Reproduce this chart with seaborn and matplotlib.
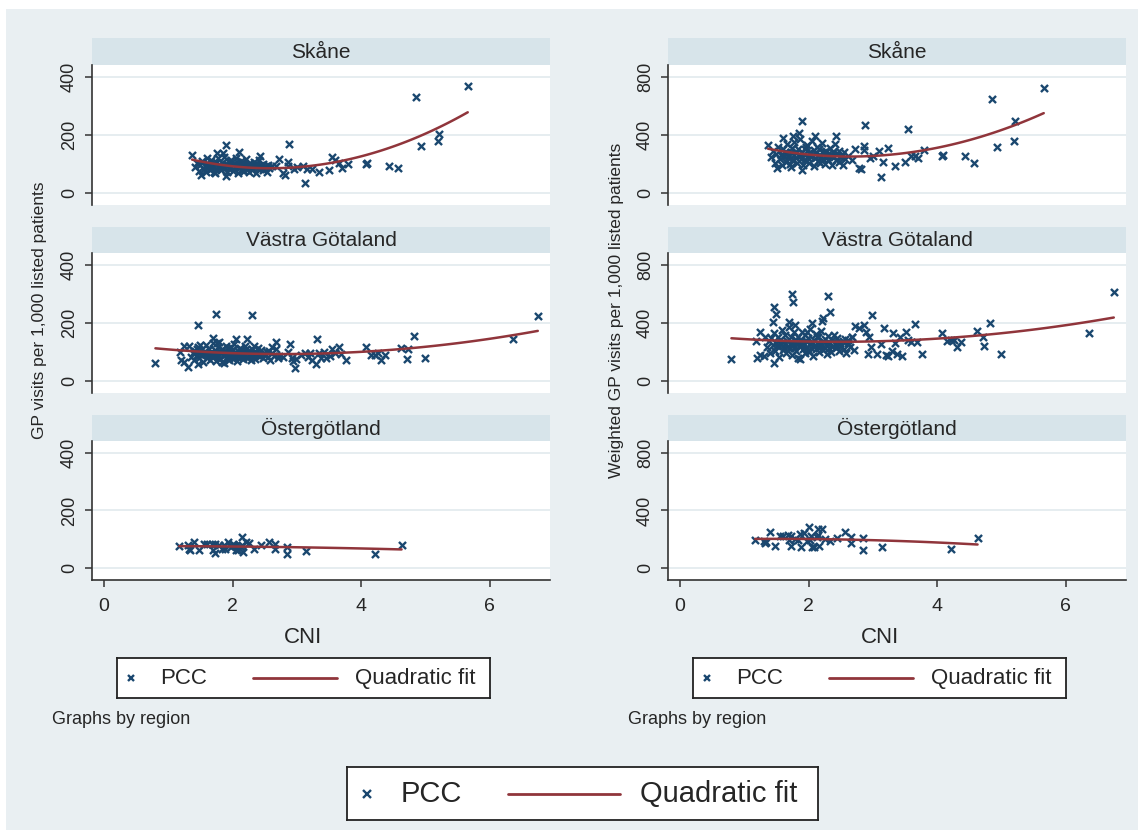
import matplotlib.pyplot as plt
import seaborn as sns
from matplotlib.patches import Rectangle

# ---- data ----
regions = ['Skåne', 'Västra Götaland', 'Östergötland']

# Skåne: CNI, GP visits, weighted GP visits
skane_cni = [5.66, 4.85, 5.21, 5.20, 4.93, 4.57, 4.43, 4.07, 4.10, 3.80,
             3.71, 3.66, 3.59, 3.55, 3.50, 3.35, 3.24, 3.16, 3.12, 3.09,
             3.01, 2.96, 2.87, 2.88, 2.86, 2.79, 2.81, 2.72, 2.67, 2.61,
             1.37, 1.90, 2.10, 1.76, 1.85, 1.51, 1.90, 2.42,
             1.42, 1.45, 1.48, 1.50, 1.52, 1.55, 1.57, 1.58, 1.60, 1.62,
             1.63, 1.65, 1.66, 1.68, 1.70, 1.71, 1.72, 1.74, 1.75, 1.77,
             1.78, 1.80, 1.81, 1.82, 1.84, 1.86, 1.87, 1.88, 1.90, 1.91,
             1.93, 1.94, 1.95, 1.97, 1.98, 2.00, 2.01, 2.02, 2.04, 2.05,
             2.06, 2.08, 2.09, 2.10, 2.12, 2.13, 2.14, 2.16, 2.17, 2.18,
             2.20, 2.21, 2.22, 2.24, 2.25, 2.27, 2.28, 2.30, 2.31, 2.33,
             2.35, 2.36, 2.38, 2.40, 2.41, 2.43, 2.45, 2.47, 2.48, 2.50,
             2.52, 2.53, 2.55, 2.57, 1.60, 1.73, 1.96, 2.15, 2.26, 2.37]
skane_gp = [370, 332, 203, 179, 162, 87, 94, 101, 103, 100,
            85, 102, 114, 124, 79, 71, 83, 82, 34, 93,
            88, 82, 108, 168, 93, 69, 62, 118, 93, 93,
            131, 165, 142, 137, 137, 62, 59, 129,
            88, 102, 75, 96, 110, 84, 93, 71, 105, 90,
            98, 80, 115, 87, 94, 72, 101, 108, 83, 92,
            119, 86, 97, 78, 104, 91, 125, 85, 99, 74,
            95, 107, 82, 89, 113, 96, 77, 100, 88, 121,
            93, 69, 103, 86, 97, 111, 80, 94, 106, 76,
            90, 117, 84, 98, 73, 102, 89, 95, 81, 108,
            92, 70, 99, 87, 114, 83, 96, 78, 101, 89,
            94, 72, 97, 85, 122, 68, 109, 79, 100, 91]
skane_wgp = [722, 646, 497, 359, 315, 209, 253, 257, 262, 297,
             239, 253, 255, 439, 216, 184, 310, 212, 108, 288,
             255, 240, 324, 469, 297, 175, 165, 300, 230, 255,
             331, 499, 393, 391, 412, 172, 159, 391,
             250, 290, 205, 270, 320, 235, 260, 190, 300, 255,
             280, 215, 340, 245, 265, 200, 285, 310, 230, 260,
             350, 240, 275, 210, 300, 255, 370, 235, 280, 195,
             270, 305, 225, 250, 330, 275, 210, 285, 245, 360,
             260, 185, 295, 240, 275, 320, 220, 265, 305, 205,
             255, 345, 235, 280, 200, 290, 250, 270, 225, 310,
             260, 190, 285, 245, 335, 230, 275, 215, 290, 250,
             265, 195, 280, 235, 380, 180, 315, 220, 285, 255]

# Västra Götaland
vg_cni = [0.80, 6.75, 6.37, 5.00, 4.83, 4.62, 4.71, 4.73, 4.37, 4.31,
          4.27, 4.21, 4.15, 4.08, 3.76, 3.68, 3.66, 3.60, 3.55, 3.52,
          3.45, 3.38, 3.32, 3.30, 3.34, 3.42, 3.21, 3.17, 3.12, 3.23,
          3.07, 2.97, 2.94, 2.99, 2.89, 2.92, 2.78, 2.73, 2.87, 2.67,
          2.62, 2.31, 2.33, 1.74, 1.76, 1.47, 1.49, 2.22, 2.21, 2.05,
          1.70, 1.44, 1.24, 1.32, 1.19, 1.30, 1.24, 1.20, 1.47,
          1.36, 1.38, 1.40, 1.42, 1.44, 1.46, 1.48, 1.50, 1.51, 1.53,
          1.54, 1.56, 1.57, 1.58, 1.60, 1.61, 1.62, 1.64, 1.65, 1.66,
          1.68, 1.69, 1.70, 1.72, 1.73, 1.74, 1.76, 1.77, 1.78, 1.80,
          1.81, 1.82, 1.83, 1.85, 1.86, 1.87, 1.88, 1.90, 1.91, 1.92,
          1.94, 1.95, 1.96, 1.98, 1.99, 2.00, 2.02, 2.03, 2.04, 2.06,
          2.07, 2.08, 2.10, 2.11, 2.12, 2.14, 2.15, 2.16, 2.18, 2.19,
          2.20, 2.22, 2.23, 2.25, 2.26, 2.28, 2.29, 2.31, 2.32, 2.34,
          2.35, 2.37, 2.38, 2.40, 2.42, 2.43, 2.45, 2.47, 2.49, 2.51,
          2.53, 2.55, 2.57, 2.59, 2.62, 2.65, 2.68, 2.71, 1.63, 1.71,
          1.79, 1.84, 1.89, 1.93, 1.97, 2.01, 2.05, 2.09, 2.13, 2.17]
vg_gp = [63, 225, 144, 80, 155, 115, 76, 110, 90, 72,
         96, 90, 88, 117, 72, 93, 117, 95, 109, 86,
         79, 80, 145, 57, 96, 100, 96, 82, 96, 72,
         89, 46, 68, 75, 126, 80, 83, 86, 100, 136,
         117, 228, 120, 230, 130, 193, 125, 145, 110, 145,
         149, 110, 122, 122, 100, 49, 67, 72, 60,
         84, 98, 72, 105, 90, 117, 78, 95, 88, 110,
         66, 101, 93, 125, 80, 97, 86, 112, 74, 99,
         89, 131, 83, 94, 107, 70, 92, 118, 85, 100,
         77, 96, 109, 88, 62, 103, 91, 120, 81, 95,
         114, 73, 99, 87, 106, 79, 93, 128, 84, 97,
         68, 102, 90, 115, 82, 96, 108, 75, 93, 88,
         121, 80, 99, 86, 104, 71, 94, 111, 83, 97,
         76, 101, 89, 113, 85, 92, 106, 78, 95, 88,
         99, 82, 104, 74, 96, 87, 109, 80, 93, 85,
         136, 64, 100, 91, 118, 76, 97, 87, 107, 83]
vg_wgp = [154, 616, 329, 184, 398, 343, 306, 244, 267, 233,
          285, 285, 276, 329, 186, 267, 391, 267, 284, 336,
          172, 184, 331, 205, 260, 301, 179, 368, 253, 170,
          187, 236, 305, 453, 336, 187, 368, 382, 384, 300,
          280, 586, 474, 602, 543, 513, 462, 432, 414, 402,
          407, 405, 338, 300, 278, 170, 179, 161, 126,
          235, 275, 190, 295, 245, 330, 205, 260, 240, 305,
          165, 280, 255, 350, 215, 270, 230, 315, 195, 275,
          240, 370, 225, 260, 300, 180, 250, 335, 230, 280,
          205, 265, 305, 240, 155, 285, 250, 340, 220, 260,
          320, 190, 275, 235, 295, 210, 255, 360, 225, 270,
          175, 285, 245, 325, 220, 265, 300, 200, 255, 240,
          345, 215, 275, 230, 290, 185, 260, 310, 225, 265,
          200, 280, 240, 320, 230, 250, 295, 205, 260, 240,
          275, 220, 290, 195, 265, 235, 305, 215, 255, 230,
          385, 160, 275, 250, 335, 200, 270, 235, 300, 225]

# Östergötland
og_cni = [1.17, 1.30, 1.32, 1.34, 1.40, 1.48, 1.55, 1.61, 1.68, 1.73,
          1.69, 1.73, 1.79, 1.84, 1.87, 1.89, 1.93, 1.97, 2.00, 2.02,
          2.04, 2.06, 2.09, 2.17, 2.15, 2.21, 2.14, 2.13, 2.25, 2.34,
          2.44, 2.56, 2.66, 2.66, 2.85, 2.84, 3.15, 4.22, 4.63]
og_gp = [75, 81, 67, 64, 89, 64, 83, 83, 83, 83,
         64, 52, 79, 67, 80, 67, 89, 72, 83, 79,
         75, 64, 64, 55, 107, 92, 80, 72, 87, 67,
         79, 92, 83, 67, 72, 50, 60, 50, 81]
og_wgp = [197, 185, 173, 178, 254, 153, 220, 220, 231, 220,
          197, 153, 203, 192, 240, 148, 247, 185, 282, 197,
          220, 146, 148, 150, 270, 270, 231, 215, 201, 185,
          208, 250, 213, 171, 208, 125, 146, 134, 208]

data = {
    'Skåne': (skane_cni, skane_gp, skane_wgp),
    'Västra Götaland': (vg_cni, vg_gp, vg_wgp),
    'Östergötland': (og_cni, og_gp, og_wgp),
}

ylabels = ['GP visits per 1,000 listed patients',
           'Weighted GP visits per 1,000 listed patients']
left_yticks = [0, 200, 400]
right_yticks = [0, 400, 800]
xticks = [0, 2, 4, 6]

# ---- style ----
NAVY = '#1A476F'
MAROON = '#90353B'
BG = '#E9EFF2'
STRIP = '#D7E4EA'
GRID = '#E4ECEF'

sns.set_style('white')
plt.rcParams['font.family'] = ['Liberation Sans', 'DejaVu Sans']

W, H = 1142, 830
fig = plt.figure(figsize=(W / 100, H / 100), dpi=100, facecolor='white')
fig.patches.append(Rectangle((6 / W, 0), (W - 10) / W, (H - 9) / H,
                             transform=fig.transFigure, facecolor=BG,
                             edgecolor='none', zorder=-10))


def px_axes(x0, y0, x1, y1):
    return fig.add_axes([x0 / W, 1 - y1 / H, (x1 - x0) / W, (y1 - y0) / H])


strip_rows = [(38, 65), (227, 253), (415, 441)]
plot_rows = [(65, 205), (253, 393), (441, 580)]
columns = [
    dict(x0=92, x1=550, idx=1, ylim=(-41.4, 441.4), yticks=left_yticks),
    dict(x0=668, x1=1126, idx=2, ylim=(-82.8, 882.8), yticks=right_yticks),
]

for col in columns:
    for r, region in enumerate(regions):
        cni = data[region][0]
        vals = data[region][col['idx']]

        sax = px_axes(col['x0'], strip_rows[r][0], col['x1'], strip_rows[r][1])
        sax.set_facecolor(STRIP)
        sax.set_xticks([])
        sax.set_yticks([])
        for s in sax.spines.values():
            s.set_visible(False)
        sax.text(0.5, 0.48, region, ha='center', va='center', fontsize=15,
                 transform=sax.transAxes)

        ax = px_axes(col['x0'], plot_rows[r][0], col['x1'], plot_rows[r][1])
        ax.set_facecolor('white')
        sns.scatterplot(x=cni, y=vals, marker='x', s=26, linewidth=1.7,
                        color=NAVY, ax=ax, zorder=3)
        sns.regplot(x=cni, y=vals, order=2, scatter=False, ci=None,
                    truncate=True, line_kws=dict(color=MAROON, lw=1.8, zorder=4),
                    ax=ax)
        ax.set_xlim(-0.187, 6.94)
        ax.set_ylim(*col['ylim'])
        ax.set_yticks(col['yticks'])
        ax.set_xlabel('')
        ax.set_ylabel('')
        ax.yaxis.grid(True, color=GRID, lw=1.3)
        ax.xaxis.grid(False)
        ax.set_axisbelow(True)
        for side in ['top', 'right']:
            ax.spines[side].set_visible(False)
        ax.spines['left'].set_color('#333333')
        ax.spines['left'].set_linewidth(1.2)
        ax.tick_params(axis='y', length=5, width=1.1, color='#333333',
                       labelsize=13, pad=5, labelrotation=90, left=True)
        for lbl in ax.get_yticklabels():
            lbl.set_va('center')
        if r == 2:
            ax.set_xticks(xticks)
            ax.spines['bottom'].set_color('#333333')
            ax.spines['bottom'].set_linewidth(1.2)
            ax.tick_params(axis='x', length=5, width=1.1, color='#333333',
                           labelsize=14, pad=8, bottom=True)
        else:
            ax.set_xticks([])
            ax.spines['bottom'].set_visible(False)

# axis titles and notes
fig.text(303 / W, 1 - 637 / H, 'CNI', ha='center', va='center', fontsize=16)
fig.text(880 / W, 1 - 637 / H, 'CNI', ha='center', va='center', fontsize=16)
fig.text(40 / W, 1 - 310 / H, ylabels[0], rotation=90, ha='center', va='center', fontsize=12.5)
fig.text(616 / W, 1 - 310 / H, ylabels[1], rotation=90, ha='center', va='center', fontsize=12.5)
fig.text(52 / W, 1 - 719 / H, 'Graphs by region', ha='left', va='center', fontsize=13)
fig.text(628 / W, 1 - 719 / H, 'Graphs by region', ha='left', va='center', fontsize=13)


def legend_box(x0, y0, x1, y1, fs, ms, mx, tx1, lx0, lx1, tx2):
    lax = px_axes(x0, y0, x1, y1)
    lax.set_xlim(0, 1)
    lax.set_ylim(0, 1)
    lax.set_xticks([])
    lax.set_yticks([])
    lax.set_facecolor('white')
    for s in lax.spines.values():
        s.set_color('#222222')
        s.set_linewidth(1.3)
    lax.plot([mx], [0.5], marker='x', ms=ms, mew=1.7, color=NAVY, ls='none')
    lax.text(tx1, 0.5, 'PCC', fontsize=fs, va='center')
    lax.plot([lx0, lx1], [0.5, 0.5], color=MAROON, lw=2)
    lax.text(tx2, 0.5, 'Quadratic fit', fontsize=fs, va='center')


legend_box(117, 658, 490, 698, 16, 5, 0.038, 0.115, 0.365, 0.59, 0.638)
legend_box(693, 658, 1066, 698, 16, 5, 0.038, 0.115, 0.365, 0.59, 0.638)
legend_box(347, 767, 818, 820, 21, 6, 0.042, 0.113, 0.342, 0.58, 0.622)

fig.savefig('out.png', dpi=100, facecolor=fig.get_facecolor())
